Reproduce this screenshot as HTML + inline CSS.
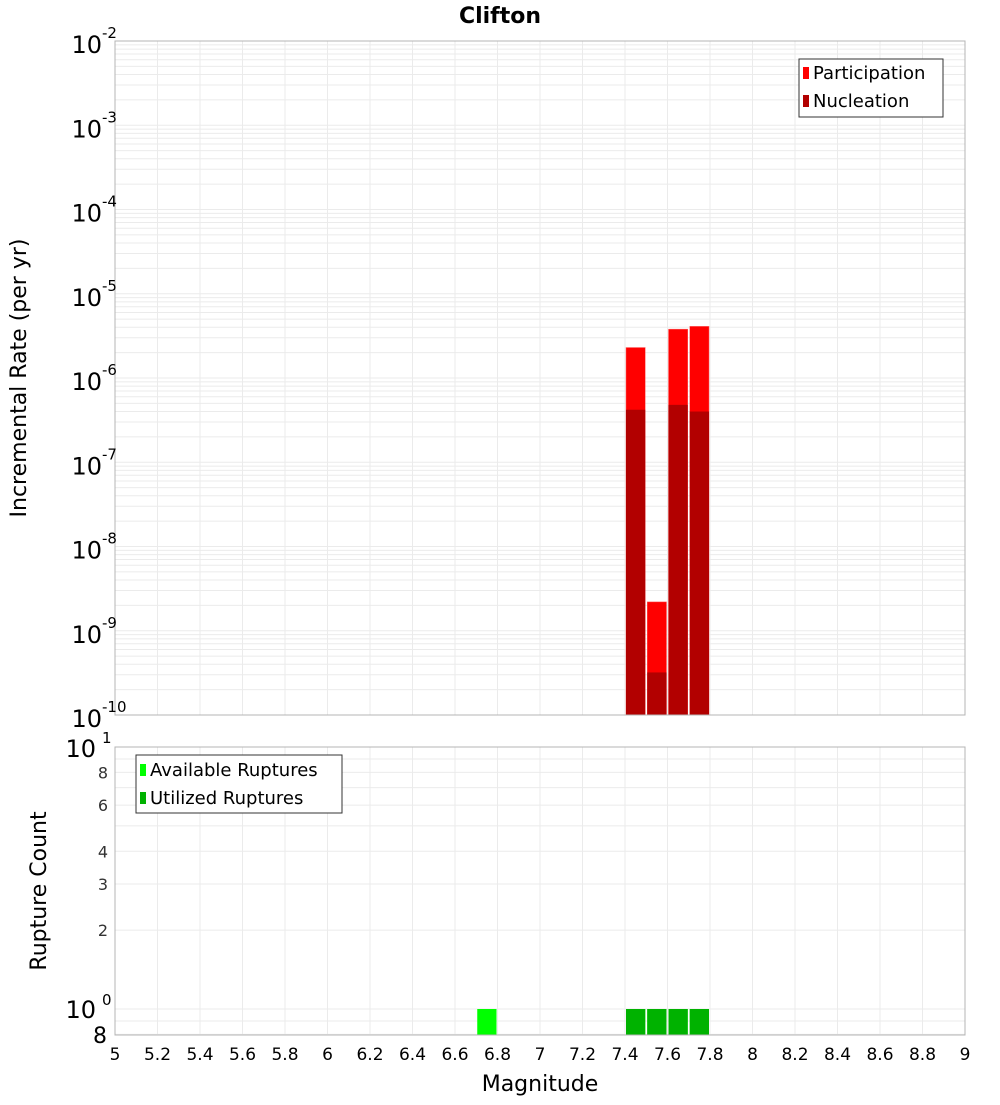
<!DOCTYPE html>
<html><head><meta charset="utf-8"><style>
body{margin:0;background:#fff;font-family:"Liberation Sans","DejaVu Sans",sans-serif}
svg text{font-family:"DejaVu Sans","Liberation Sans",sans-serif}
</style></head><body>
<svg id="c" width="1000" height="1100" xmlns="http://www.w3.org/2000/svg"></svg>
<script>
const mags=[7.45,7.55,7.65,7.75];
const participation=[2.3e-6,2.2e-9,3.8e-6,4.1e-6];
const nucleation=[4.2e-7,3.2e-10,4.8e-7,4.0e-7];
const countMags=[6.75,7.45,7.55,7.65,7.75];
const availableCounts=[1,1,1,1,1];
const utilizedCounts=[0,1,1,1,1];
const xTicks=[5,5.2,5.4,5.6,5.8,6,6.2,6.4,6.6,6.8,7,7.2,7.4,7.6,7.8,8,8.2,8.4,8.6,8.8,9];
const topExps=[-2,-3,-4,-5,-6,-7,-8,-9,-10];
const botTicks=[8,6,4,3,2];

const svg=document.getElementById('c');const NS='http://www.w3.org/2000/svg';
function el(t,a,p){const e=document.createElementNS(NS,t);for(const k in a)e.setAttribute(k,a[k]);(p||svg).appendChild(e);return e;}
const L=115,R=965;
const X=v=>L+(v-5)/4*(R-L);
const T0=41,T1=715;
const YT=v=>T0+(-2-Math.log10(v))/8*(T1-T0);
const B0=747,B1=1035;
const YB=v=>1009-Math.log10(v)*262;

// titles
let t=el('text',{x:500,y:23,'text-anchor':'middle','font-size':22,'font-weight':'bold'});t.textContent='Clifton';


// top plot
const gt=el('g',{});
for(let e=-10;e<-2;e++)for(let m=1;m<10;m++){const y=YT(m*Math.pow(10,e));el('line',{x1:L,x2:R,y1:y,y2:y,stroke:'#ebebeb','stroke-width':1},gt);}
for(const v of xTicks){el('line',{x1:X(v),x2:X(v),y1:T0,y2:T1,stroke:'#ebebeb'},gt);el('line',{x1:X(v),x2:X(v),y1:B0,y2:B1,stroke:'#ebebeb'},gt);}
const bw=(X(5.1)-X(5))-2;
mags.forEach((m,i)=>{
 let r=el('rect',{x:X(m)-bw/2,y:YT(participation[i]),width:bw,height:T1-YT(participation[i]),fill:'#ff0000',stroke:'#ff6060','stroke-width':0.5},gt);
 
 r=el('rect',{x:X(m)-bw/2,y:YT(nucleation[i]),width:bw,height:T1-YT(nucleation[i]),fill:'#b20000'},gt);
 
});
el('rect',{x:L,y:T0,width:R-L,height:T1-T0,fill:'none',stroke:'#b4b4b4'},gt);
topExps.forEach(e=>{const y=YT(Math.pow(10,e));
 const tx=el('text',{x:102,y:y+12,'text-anchor':'end','font-size':24},gt);tx.textContent='10';
 const s=el('text',{x:102,y:y-3,'font-size':15},gt);s.textContent=String(e);});
// legend top
const lg=el('g',{});
el('rect',{x:799,y:59,width:144,height:58,fill:'#fff',stroke:'#333'},lg);
el('rect',{x:803,y:67,width:6,height:12,fill:'#ff0000'},lg);
el('rect',{x:803,y:95,width:6,height:12,fill:'#b20000'},lg);
t=el('text',{x:813,y:79,'font-size':18},lg);t.textContent='Participation';
t=el('text',{x:813,y:107,'font-size':18},lg);t.textContent='Nucleation';
t=el('text',{x:0,y:0,'font-size':22,'text-anchor':'middle',transform:'translate(26,378) rotate(-90)'});t.textContent='Incremental Rate (per yr)';


// bottom plot
const gb=el('g',{});
[0.8,0.9,1,2,3,4,5,6,7,8,9,10].forEach(v=>{const y=YB(v);el('line',{x1:L,x2:R,y1:y,y2:y,stroke:'#ebebeb'},gb);});
countMags.forEach((m,i)=>{
 if(availableCounts[i]>0){const r=el('rect',{x:X(m)-bw/2,y:YB(availableCounts[i]),width:bw,height:B1-YB(availableCounts[i]),fill:'#00ff00'},gb);
 }
 if(utilizedCounts[i]>0){const r=el('rect',{x:X(m)-bw/2,y:YB(utilizedCounts[i]),width:bw,height:B1-YB(utilizedCounts[i]),fill:'#00b200'},gb);
 }
});
el('rect',{x:L,y:B0,width:R-L,height:B1-B0,fill:'none',stroke:'#b4b4b4'},gb);
botTicks.forEach(v=>{const s=el('text',{x:108,y:YB(v)+6,'text-anchor':'end','font-size':16,fill:'#333'},gb);s.textContent=String(v);});
t=el('text',{x:96,y:B0+10,'text-anchor':'end','font-size':24},gb);t.textContent='10';
t=el('text',{x:102,y:B0-4,'font-size':15},gb);t.textContent='1';
t=el('text',{x:96,y:1018,'text-anchor':'end','font-size':24},gb);t.textContent='10';
t=el('text',{x:102,y:1005,'font-size':15},gb);t.textContent='0';
t=el('text',{x:107,y:1043,'text-anchor':'end','font-size':22},gb);t.textContent='8';
const lb=el('g',{});
el('rect',{x:136,y:755,width:206,height:58,fill:'#fff',stroke:'#333'},lb);
el('rect',{x:140,y:764,width:6,height:12,fill:'#00ff00'},lb);
el('rect',{x:140,y:792,width:6,height:12,fill:'#00b200'},lb);
t=el('text',{x:150,y:776,'font-size':18},lb);t.textContent='Available Ruptures';
t=el('text',{x:150,y:804,'font-size':18},lb);t.textContent='Utilized Ruptures';
t=el('text',{x:0,y:0,'font-size':22,'text-anchor':'middle',transform:'translate(46,891) rotate(-90)'});t.textContent='Rupture Count';


// x axis
const gx=el('g',{});
xTicks.forEach(v=>{const s=el('text',{x:X(v),y:1060,'text-anchor':'middle','font-size':17},gx);s.textContent=String(v);});
t=el('text',{x:540,y:1091,'text-anchor':'middle','font-size':22});t.textContent='Magnitude';

</script>
</body></html>
